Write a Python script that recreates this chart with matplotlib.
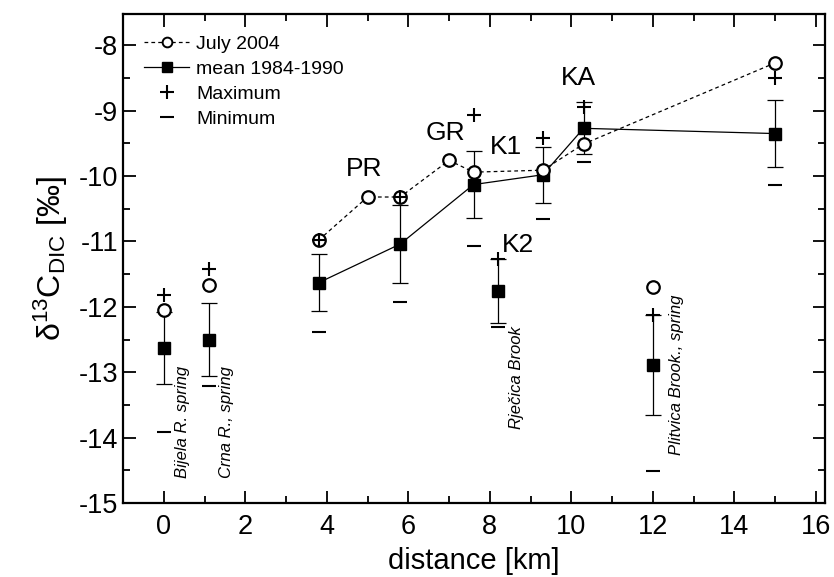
import matplotlib.pyplot as plt
from matplotlib.lines import Line2D
import numpy as np

plt.rcParams['font.family'] = ['Liberation Sans', 'DejaVu Sans']
plt.rcParams['mathtext.fontset'] = 'custom'
plt.rcParams['mathtext.rm'] = 'Liberation Sans'
plt.rcParams['mathtext.default'] = 'regular'
plt.rcParams['axes.unicode_minus'] = False

# July 2004, connected along the stream
july_x = [3.8, 5.0, 5.8, 7.0, 7.6, 9.3, 10.3, 15.0]
july_y = [-10.98, -10.32, -10.32, -9.76, -9.94, -9.91, -9.51, -8.27]
# July 2004, springs / brooks (not connected)
july_iso_x = [0.0, 1.1, 12.0]
july_iso_y = [-12.04, -11.66, -11.70]

# mean 1984-1990 along the stream
mean_x = [3.8, 5.8, 7.6, 9.3, 10.3, 15.0]
mean_y = [-11.63, -11.04, -10.13, -9.98, -9.27, -9.35]
mean_err = [0.44, 0.60, 0.51, 0.43, 0.40, 0.51]
mean_max = [-10.97, -10.32, -9.07, -9.42, -8.94, -8.50]
mean_min = [-12.39, -11.92, -11.07, -10.65, -9.79, -10.13]
# mean 1984-1990, springs / brooks
iso_x = [0.0, 1.1, 8.2, 12.0]
iso_y = [-12.63, -12.50, -11.76, -12.89]
iso_err = [0.55, 0.56, 0.49, 0.77]
iso_max = [-11.82, -11.42, -11.27, -12.12]
iso_min = [-13.91, -13.21, -12.31, -14.51]

site_labels = ['PR', 'GR', 'K1', 'K2', 'KA']
site_pos = [(4.91, -10.08), (6.90, -9.52), (8.40, -9.74), (8.69, -11.24), (10.18, -8.68)]

side_labels = ['Bijela R. spring', 'Crna R., spring', 'Rječica Brook', 'Plitvica Brook., spring']
side_pos = [(0.45, -14.62), (1.55, -14.62), (8.66, -13.86), (12.59, -14.27)]

fig = plt.figure(figsize=(8.34, 5.77), dpi=100)
ax = fig.add_axes([0.1475, 0.128, 0.8415, 0.848])

ax.plot(july_x, july_y, color='black', lw=0.9, ls=(0, (3, 2.5)), marker='o', ms=9,
        mfc='white', mec='black', mew=1.6, zorder=4)
ax.plot(july_iso_x, july_iso_y, ls='none', marker='o', ms=9, mfc='white', mec='black',
        mew=1.6, zorder=4)

ax.errorbar(mean_x, mean_y, yerr=mean_err, color='black', lw=0.9, elinewidth=0.9,
            capsize=6, capthick=0.9, marker='s', ms=8, mfc='black', mec='black', zorder=3)
ax.errorbar(iso_x, iso_y, yerr=iso_err, color='black', ls='none', elinewidth=0.9,
            capsize=6, capthick=0.9, marker='s', ms=8, mfc='black', mec='black', zorder=3)

ax.plot(mean_x + iso_x, mean_max + iso_max, ls='none', marker='+', ms=10, mew=1.5,
        color='black', zorder=5)
ax.plot(mean_x + iso_x, mean_min + iso_min, ls='none', marker='_', ms=10, mew=1.5,
        color='black', zorder=5)

for lab, (px, py) in zip(site_labels, site_pos):
    ax.text(px, py, lab, fontsize=19, ha='center', va='bottom')

for lab, (px, py) in zip(side_labels, side_pos):
    ax.text(px, py, lab, fontsize=12, style='italic', rotation=90, ha='center', va='bottom')

ax.set_xlim(-1, 16.22)
ax.set_ylim(-15, -7.52)
ax.set_xticks(np.arange(0, 17, 2))
ax.set_xticks(np.arange(-1, 17, 1), minor=True)
ax.set_yticks(np.arange(-15, -7.9, 1))
ax.set_yticks(np.arange(-15, -7.5, 0.5), minor=True)
ax.tick_params(which='both', direction='in', top=True, right=True, labelsize=19.5, width=1.3)
ax.tick_params(which='major', length=9)
ax.tick_params(which='minor', length=5)
ax.tick_params(axis='x', which='major', pad=8)
for sp in ax.spines.values():
    sp.set_linewidth(1.6)

ax.set_xlabel('distance [km]', fontsize=21, labelpad=5)
ax.set_ylabel('δ$^{13}$C$_{DIC}$ [‰]', fontsize=23, labelpad=6)

handles = [
    Line2D([], [], color='black', lw=0.9, ls=(0, (3, 2.5)), marker='o', ms=7,
           mfc='white', mec='black', mew=1.4),
    Line2D([], [], color='black', lw=0.9, marker='s', ms=7, mfc='black', mec='black'),
    Line2D([], [], ls='none', marker='+', ms=10, mew=1.5, color='black'),
    Line2D([], [], ls='none', marker='_', ms=10, mew=1.5, color='black'),
]
ax.legend(handles, ['July 2004', 'mean 1984-1990', 'Maximum', 'Minimum'],
          loc='upper left', frameon=False, fontsize=14, handlelength=2.3,
          handletextpad=0.35, labelspacing=0.38, borderaxespad=0.7)

fig.savefig('out.png', dpi=100)
